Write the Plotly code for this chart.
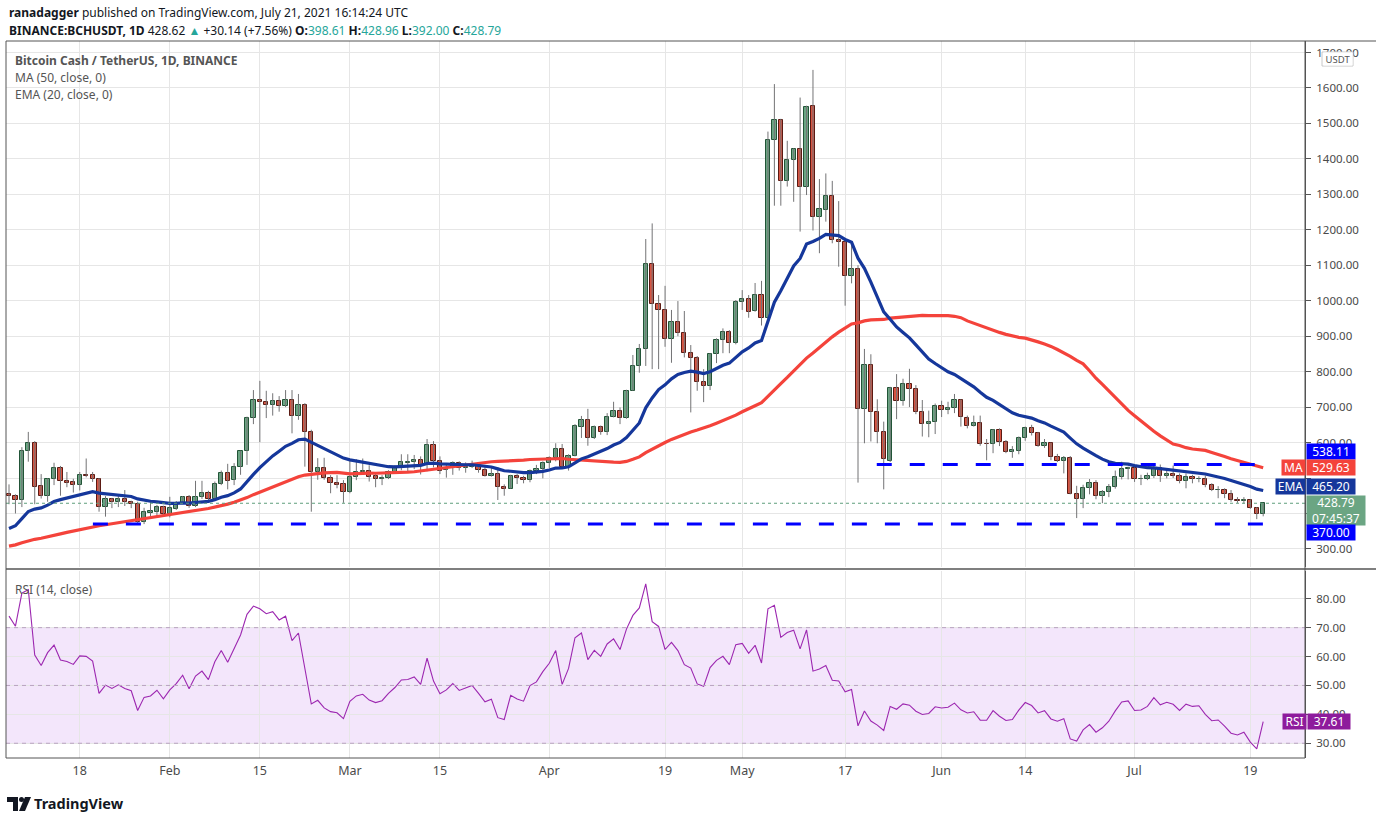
import pandas as pd
import plotly.graph_objects as go
from plotly.subplots import make_subplots

# ---------------- data ----------------
start_date = "2021-01-07"

opens = [
    454, 449, 438, 575, 598, 477, 450, 497, 528, 491,
    488, 480, 509, 508, 497, 418, 440, 431, 440, 431,
    426, 377, 402, 405, 418, 398, 414, 429, 447, 420,
    447, 458, 442, 483, 513, 493, 530, 575, 669, 719,
    714, 705, 716, 702, 719, 676, 705, 629, 516, 527,
    499, 485, 482, 460, 502, 516, 519, 505, 497, 499,
    516, 528, 543, 545, 551, 537, 592, 549, 523, 528,
    542, 528, 530, 537, 523, 507, 511, 476, 470, 506,
    500, 495, 519, 525, 542, 557, 582, 530, 562, 645,
    664, 614, 643, 631, 671, 689, 669, 746, 816, 863,
    1103, 990, 974, 891, 939, 908, 852, 838, 770, 759,
    849, 889, 911, 880, 996, 1004, 972, 1016, 951, 1453,
    1510, 1339, 1397, 1427, 1320, 1548, 1235, 1256, 1295, 1171,
    1165, 1070, 1089, 694, 818, 685, 629, 549, 753, 718,
    764, 750, 687, 652, 659, 703, 692, 697, 720, 669,
    648, 654, 597, 595, 635, 601, 574, 577, 612, 640,
    626, 591, 598, 560, 549, 556, 454, 442, 471, 485,
    449, 460, 476, 502, 525, 528, 497, 497, 506, 528,
    506, 511, 507, 491, 502, 496, 497, 480, 465, 466,
    454, 438, 435, 437, 415, 398.61,
]
highs = [
    482, 454, 587, 630, 604, 511, 499, 543, 534, 517,
    498, 517, 555, 517, 500, 449, 444, 452, 466, 436,
    433, 416, 433, 424, 422, 447, 435, 449, 452, 492,
    492, 464, 490, 521, 540, 542, 577, 673, 748, 774,
    746, 739, 731, 748, 748, 737, 711, 636, 556, 557,
    508, 508, 494, 553, 553, 555, 536, 513, 508, 522,
    536, 567, 567, 565, 561, 610, 604, 561, 540, 547,
    547, 544, 549, 544, 537, 530, 530, 482, 509, 511,
    506, 524, 537, 547, 561, 598, 596, 567, 652, 675,
    695, 648, 648, 683, 715, 699, 749, 847, 878, 1174,
    1218, 1016, 1042, 974, 999, 971, 875, 844, 807, 852,
    894, 922, 917, 1002, 1030, 1016, 1050, 1056, 1477, 1611,
    1513, 1451, 1430, 1573, 1550, 1651, 1343, 1359, 1338, 1281,
    1168, 1168, 1100, 864, 849, 722, 659, 757, 793, 780,
    808, 762, 720, 690, 710, 718, 715, 737, 722, 676,
    676, 676, 610, 638, 640, 607, 590, 617, 645, 650,
    630, 610, 600, 568, 562, 562, 478, 481, 497, 494,
    466, 483, 521, 546, 532, 530, 509, 515, 541, 538,
    526, 535, 513, 513, 509, 505, 507, 485, 477, 471,
    466, 446, 446, 440, 418, 428.96,
]
lows = [
    426, 400, 418, 546, 426, 442, 433, 480, 450, 474,
    459, 465, 502, 489, 405, 391, 415, 418, 421, 415,
    370, 370, 391, 391, 392, 389, 410, 427, 416, 418,
    441, 435, 441, 480, 468, 480, 509, 537, 652, 601,
    669, 676, 687, 700, 626, 664, 532, 405, 495, 495,
    457, 471, 430, 457, 494, 513, 490, 474, 480, 497,
    513, 522, 519, 525, 510, 519, 530, 511, 501, 509,
    521, 515, 528, 515, 504, 504, 438, 450, 470, 483,
    485, 488, 511, 499, 528, 547, 528, 521, 561, 613,
    591, 610, 622, 621, 671, 652, 667, 746, 797, 816,
    807, 807, 870, 825, 900, 840, 685, 746, 714, 748,
    824, 852, 852, 877, 974, 952, 969, 930, 937, 1268,
    1268, 1322, 1279, 1195, 1298, 1198, 1134, 1223, 1162, 1096,
    986, 1049, 487, 598, 603, 598, 468, 545, 666, 704,
    700, 680, 617, 615, 624, 672, 680, 683, 645, 640,
    645, 591, 550, 570, 590, 570, 557, 567, 605, 620,
    588, 585, 550, 545, 513, 454, 387, 415, 454, 440,
    429, 446, 470, 496, 496, 489, 480, 494, 500, 489,
    499, 500, 485, 471, 485, 488, 474, 463, 443, 443,
    433, 430, 428, 413, 384, 392.00,
]
closes = [
    449, 438, 575, 598, 476, 450, 497, 528, 491, 487,
    480, 508, 507, 497, 418, 440, 431, 440, 431, 426,
    375, 403, 406, 418, 398, 416, 429, 447, 420, 447,
    458, 442, 483, 513, 492, 530, 575, 669, 719, 714,
    705, 716, 702, 719, 676, 705, 629, 516, 527, 499,
    485, 481, 460, 502, 516, 520, 504, 497, 501, 516,
    528, 544, 545, 550, 537, 592, 549, 521, 529, 542,
    528, 532, 537, 523, 507, 511, 474, 470, 506, 499,
    495, 519, 525, 542, 557, 582, 530, 562, 647, 664,
    614, 643, 631, 671, 689, 669, 746, 816, 863, 1103,
    990, 974, 891, 939, 908, 852, 838, 770, 759, 849,
    889, 911, 880, 996, 1004, 969, 1016, 951, 1453, 1510,
    1339, 1397, 1427, 1320, 1546, 1235, 1258, 1295, 1171, 1165,
    1070, 1089, 694, 818, 685, 629, 553, 753, 718, 764,
    750, 687, 652, 659, 703, 692, 697, 720, 671, 648,
    654, 595, 595, 635, 601, 574, 578, 612, 640, 626,
    591, 598, 560, 549, 556, 454, 442, 471, 485, 449,
    460, 476, 502, 525, 528, 497, 498, 506, 525, 506,
    511, 506, 491, 502, 497, 498, 480, 466, 467, 454,
    438, 434, 437, 415, 398.61, 428.79,
]
# closes before the visible window (Nov 18 2020 - Jan 6 2021), only used to warm up MA/EMA/RSI
pre_closes = [
    258, 262, 275, 300, 290, 300, 330, 310, 265, 270, 285, 295, 310,
    290, 295, 300, 280, 290, 295, 285, 265, 270, 262, 255, 265, 275, 272, 270,
    290, 310, 305, 310, 300, 280, 285, 260, 290, 310, 300, 335, 350, 330, 345, 335,
    340, 370, 400, 385, 420, 435,
]

resistance_level = 538.11
support_level = 370.00
resistance_start = "2021-05-21 22:00"
support_start = "2021-01-20 01:00"
levels_end = "2021-07-21 08:00"

last_price = 428.79
countdown = "07:45:37"
ma_label_value = 529.63
ema_label_value = 465.20
rsi_label_value = 37.61

x_ticks = ["2021-01-18", "2021-02-01", "2021-02-15", "2021-03-01", "2021-03-15", "2021-04-01",
           "2021-04-19", "2021-05-01", "2021-05-17", "2021-06-01", "2021-06-14", "2021-07-01", "2021-07-19"]
x_tick_text = ["18", "Feb", "15", "Mar", "15", "Apr", "19", "May", "17", "Jun", "14", "Jul", "19"]
price_ticks = [300, 400, 500, 600, 700, 800, 900, 1000, 1100, 1200, 1300, 1400, 1500, 1600, 1700]
price_hidden = [400, 500]          # tick labels covered by the value boxes in the reference
rsi_ticks = [30, 40, 50, 60, 70, 80]

# ---------------- indicators ----------------
dates = pd.date_range(start_date, periods=len(closes), freq="D")
n_pre = len(pre_closes)
allc = pd.Series(pre_closes + closes, dtype=float)
ma50 = allc.rolling(50).mean().iloc[n_pre:].to_numpy()
ema20 = allc.ewm(span=20, adjust=False).mean().iloc[n_pre:].to_numpy()
delta = allc.diff()
gain = delta.clip(lower=0).ewm(alpha=1 / 14, adjust=False).mean()
loss = (-delta.clip(upper=0)).ewm(alpha=1 / 14, adjust=False).mean()
rsi = (100 - 100 / (1 + gain / loss)).iloc[n_pre:].to_numpy()

# ---------------- style ----------------
UP_FILL, UP_LINE = "#6ba583", "#225437"
DN_FILL, DN_LINE = "#d75442", "#5b1a13"
WICK = "#737375"
MA_C, EMA_C = "#f4433b", "#15379b"
LVL_C = "#0000ff"
RSI_C = "#9c27b0"
GRID = "#e6e6e6"
AX = "#4a4a4a"
FONT = "Noto Sans"

W, H = 1376, 823
L, R, T, B = 6, 1305, 41, 758


def px(x):
    return (x - L) / (R - L)


def py(y):
    return (B - y) / (B - T)


fig = make_subplots(rows=2, cols=1, shared_xaxes=True, vertical_spacing=0.01)

# wicks
wx, wy = [], []
for d, h, l in zip(dates, highs, lows):
    wx += [d, d, None]
    wy += [l, h, None]
fig.add_trace(go.Scatter(x=wx, y=wy, mode="lines", line=dict(color=WICK, width=1),
                         hoverinfo="skip"), row=1, col=1)

# bodies
base = [min(o, c) for o, c in zip(opens, closes)]
hgt = [max(abs(c - o), 1.2) for o, c in zip(opens, closes)]
fills = [UP_FILL if c >= o else DN_FILL for o, c in zip(opens, closes)]
borders = [UP_LINE if c >= o else DN_LINE for o, c in zip(opens, closes)]
fig.add_trace(go.Bar(x=dates, y=hgt, base=base, width=0.66 * 86400000,
                     marker=dict(color=fills, line=dict(color=borders, width=1))), row=1, col=1)

fig.add_trace(go.Scatter(x=dates, y=ma50, mode="lines", line=dict(color=MA_C, width=3.2)), row=1, col=1)
fig.add_trace(go.Scatter(x=dates, y=ema20, mode="lines", line=dict(color=EMA_C, width=3.2)), row=1, col=1)
fig.add_trace(go.Scatter(x=dates, y=rsi, mode="lines", line=dict(color=RSI_C, width=1.1)), row=2, col=1)

xr = ["2021-01-06 12:45", "2021-07-27 12:00"]
common_x = dict(range=xr, type="date", tickvals=x_ticks, ticktext=x_tick_text, showgrid=True,
                gridcolor=GRID, gridwidth=1, zeroline=False, showline=False)
price_text = ["" if v in price_hidden else f"{v:.2f}" for v in price_ticks]
fig.update_layout(
    width=W, height=H, template="none", showlegend=False, bargap=0, barmode="overlay",
    paper_bgcolor="white", plot_bgcolor="white",
    margin=dict(l=L, r=W - R, t=T, b=H - B),
    font=dict(family=FONT, color=AX, size=12),
    xaxis=dict(common_x, showticklabels=False, ticks=""),
    xaxis2=dict(common_x, showticklabels=True, ticks="", ticklabelstandoff=3,
                tickfont=dict(size=12.5, color=AX)),
    yaxis=dict(domain=[py(567), 1], range=[249, 1732.5], side="right", tickvals=price_ticks,
               ticktext=price_text, ticks="outside", ticklen=5, tickcolor="#555", showline=True,
               linecolor="#555", linewidth=1, showgrid=True, gridcolor=GRID, zeroline=False,
               tickfont=dict(size=11.5, color=AX), ticklabelstandoff=3, automargin=False),
    yaxis2=dict(domain=[0, py(571)], range=[24.9, 89.6], side="right", tickvals=rsi_ticks,
                tickformat=".2f", ticks="outside", ticklen=5, tickcolor="#555", showline=True,
                linecolor="#555", linewidth=1, showgrid=True, gridcolor=GRID, zeroline=False,
                tickfont=dict(size=11.5, color=AX), ticklabelstandoff=3, automargin=False),
)
fig.update_xaxes(rangeslider_visible=False)

shapes = []
# RSI band and its dashed guides
shapes.append(dict(type="rect", xref="paper", yref="y2", x0=0, x1=1, y0=30, y1=70,
                   fillcolor="#f3e6fb", line=dict(width=0), layer="below"))
for lv in (70, 50, 30):
    shapes.append(dict(type="line", xref="paper", yref="y2", x0=0, x1=1, y0=lv, y1=lv,
                       line=dict(color="#b8a2c0", width=1, dash="4px,4px")))
# support / resistance levels
shapes.append(dict(type="line", xref="x", yref="y", x0=resistance_start, x1=levels_end,
                   y0=resistance_level, y1=resistance_level,
                   line=dict(color=LVL_C, width=3, dash="15px,18px")))
shapes.append(dict(type="line", xref="x", yref="y", x0=support_start, x1=levels_end,
                   y0=support_level, y1=support_level,
                   line=dict(color=LVL_C, width=3, dash="15px,18px")))
# last price dotted line
shapes.append(dict(type="line", xref="paper", yref="y", x0=0, x1=1, y0=last_price, y1=last_price,
                   line=dict(color="#5f9e7c", width=1, dash="dot")))
# frame and pane separator
shapes.append(dict(type="rect", xref="paper", yref="paper", x0=0, x1=1, y0=0, y1=1,
                   line=dict(color="#555", width=1)))
shapes.append(dict(type="line", xref="paper", yref="paper", x0=0, x1=px(W), y0=py(569), y1=py(569),
                   line=dict(color="#555", width=1.5)))
shapes.append(dict(type="line", xref="paper", yref="paper", x0=px(R), x1=px(W), y0=1, y1=1,
                   line=dict(color="#555", width=1)))


# TradingView logo mark
def P(x, y):
    return f"{px(x)},{py(y)}"


shapes.append(dict(type="path", xref="paper", yref="paper",
                   path=f"M{P(7,797)} L{P(18,797)} L{P(18,811)} L{P(13,811)} L{P(13,802)} L{P(7,802)} Z",
                   fillcolor="#131722", line=dict(width=0)))
shapes.append(dict(type="circle", xref="paper", yref="paper", x0=px(19), x1=px(24), y0=py(797), y1=py(802),
                   fillcolor="#131722", line=dict(width=0)))
shapes.append(dict(type="path", xref="paper", yref="paper",
                   path=f"M{P(25,797)} L{P(31,797)} L{P(25,811)} L{P(19,811)} Z",
                   fillcolor="#131722", line=dict(width=0)))
# USDT badge border
shapes.append(dict(type="rect", xref="paper", yref="paper", x0=px(1322), x1=px(1353), y0=py(66), y1=py(52),
                   line=dict(color="#c8c8c8", width=1), fillcolor="white"))
fig.update_layout(shapes=shapes)

ann = []


def text(x, y, s, size=12, color=AX, **kw):
    ann.append(dict(xref="paper", yref="paper", x=px(x), y=py(y), text=s, showarrow=False,
                    xanchor="left", yanchor="middle", font=dict(size=size, color=color, family=FONT), **kw))


def box(xc, y, s, bg, w, h=15, size=12, fc="white"):
    ann.append(dict(xref="paper", yref="paper", x=px(xc), y=py(y), text=s, showarrow=False,
                    xanchor="center", yanchor="middle", bgcolor=bg, width=w, height=h, borderpad=0,
                    align="center", valign="middle",
                    font=dict(size=size, color=fc, family=FONT)))


TEAL = "#26a69a"
text(7, 12, "<b>ranadagger</b> published on TradingView.com, July 21, 2021 16:14:24 UTC", size=12, color="#131722")
text(7, 30, "<b>BINANCE:BCHUSDT, 1D</b> 428.62 <span style='color:%s'>▲</span> +30.14 (+7.56%%) "
            "<b>O:</b><span style='color:%s'>398.61</span> <b>H:</b><span style='color:%s'>428.96</span> "
            "<b>L:</b><span style='color:%s'>392.00</span> <b>C:</b><span style='color:%s'>428.79</span>"
     % (TEAL, TEAL, TEAL, TEAL, TEAL), size=12, color="#131722")
text(13, 60, "<b>Bitcoin Cash / TetherUS, 1D, BINANCE</b>", size=12, color="#555")
text(13, 78, "MA (50, close, 0)", size=12, color="#555")
text(13, 95, "EMA (20, close, 0)", size=12, color="#555")
text(13, 589, "RSI (14, close)", size=12, color="#555")
text(32, 803, "<b>TradingView</b>", size=14.5, color="#131722")

# right-axis value labels
box(1337.5, 59, "USDT", "white", 28, h=12, size=9.5, fc="#555")
box(1331, 451, f"{resistance_level:.2f}", LVL_C, 48)
box(1293.5, 467, "MA", MA_C, 23)
box(1331, 467, f"{ma_label_value:.2f}", MA_C, 48)
box(1290.5, 487, "EMA", EMA_C, 29)
box(1331, 487, f"{ema_label_value:.2f}", EMA_C, 48)
box(1336, 510, f"{last_price:.2f}<br>{countdown}", UP_FILL, 58, h=29)
box(1331, 532, f"{support_level:.2f}", LVL_C, 48)
box(1294.5, 721.5, "RSI", "#8e1b9c", 23)
box(1329, 721.5, f"{rsi_label_value:.2f}", "#8e1b9c", 42)
fig.update_layout(annotations=ann)

fig.write_html("out.html", config={"displayModeBar": False},
               post_script="document.body.style.margin='0px';document.body.style.overflow='hidden';")
